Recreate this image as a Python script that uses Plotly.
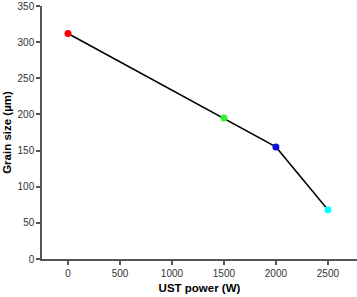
import plotly.graph_objects as go

power = [0, 1500, 2000, 2500]
grain_size = [312, 195, 155, 68]
point_colors = ["#ff0000", "#33ee33", "#1010dd", "#00ffff"]
x_ticks = [0, 500, 1000, 1500, 2000, 2500]
y_ticks = [0, 50, 100, 150, 200, 250, 300, 350]

fig = go.Figure()
fig.add_trace(go.Scatter(
    x=power, y=grain_size, mode="lines+markers",
    line=dict(color="black", width=1.5),
    marker=dict(color=point_colors, size=7),
    showlegend=False,
))

font = "Liberation Sans, Arial, sans-serif"
fig.update_layout(
    width=357, height=297,
    margin=dict(l=42, r=0, t=6, b=38),
    plot_bgcolor="white", paper_bgcolor="white",
    font=dict(family=font, size=10, color="#333333"),
)
fig.update_xaxes(
    range=[-250, 2780], tickvals=x_ticks,
    showline=True, linecolor="#555555", linewidth=1.5,
    ticks="outside", ticklen=4, tickcolor="#555555", tickwidth=1.5,
    showgrid=False, zeroline=False, automargin=False,
    tickfont=dict(size=10, color="#333333"),
    title=dict(text="<b>UST power (W)</b>", font=dict(size=11.5, color="black"), standoff=6),
)
fig.update_yaxes(
    range=[0, 350], tickvals=y_ticks,
    showline=True, linecolor="#555555", linewidth=1.5,
    ticks="outside", ticklen=4, tickcolor="#555555", tickwidth=1.5,
    showgrid=False, zeroline=False, automargin=False,
    tickfont=dict(size=10, color="#333333"),
    title=dict(text="<b>Grain size (µm)</b>", font=dict(size=11.5, color="black"), standoff=4),
)
fig.write_html(
    "out.html",
    config={"displayModeBar": False},
    post_script="document.body.style.margin='0';document.body.style.overflow='hidden';",
)
